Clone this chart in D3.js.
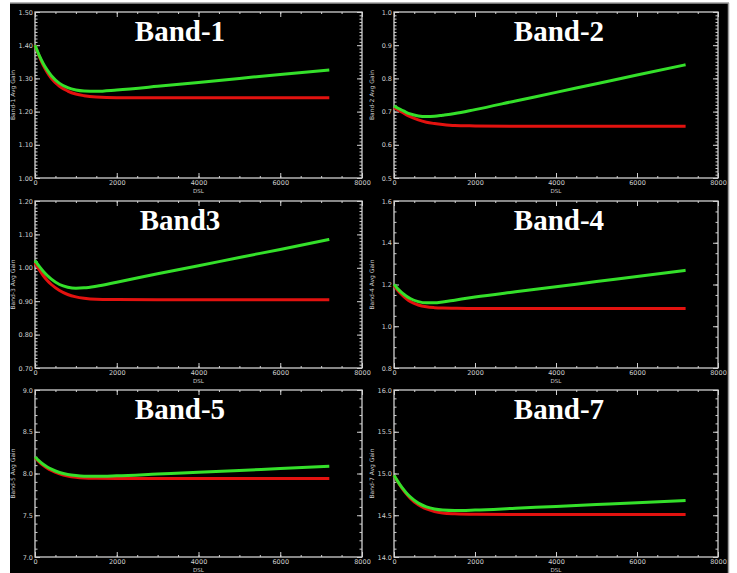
<!DOCTYPE html>
<html>
<head>
<meta charset="utf-8">
<script src="https://cdn.jsdelivr.net/npm/d3@7"></script>
<style>
  html, body { margin: 0; padding: 0; background: #ffffff; }
  svg { display: block; }
</style>
</head>
<body>
<svg id="chart" width="737" height="573"></svg>
<script>
// ---------------- DATA ----------------
const dsl = [0, 100, 200, 300, 400, 600, 800, 1000, 1200, 1500, 2000, 3000, 4000, 5000, 6000, 7200];

const bandTitles = ["Band-1", "Band-2", "Band3", "Band-4", "Band-5", "Band-7"];
const yAxisTitles = ["Band-1 Avg Gain", "Band-2 Avg Gain", "Band-3 Avg Gain", "Band-4 Avg Gain", "Band-5 Avg Gain", "Band-7 Avg Gain"];

const green1 = [1.400, 1.370, 1.345, 1.325, 1.308, 1.285, 1.272, 1.265, 1.262, 1.261, 1.265, 1.276, 1.288, 1.300, 1.312, 1.325];
const red1   = [1.400, 1.368, 1.340, 1.318, 1.300, 1.276, 1.262, 1.253, 1.248, 1.244, 1.242, 1.242, 1.242, 1.242, 1.242, 1.242];

const green2 = [0.717, 0.710, 0.704, 0.698, 0.693, 0.687, 0.685, 0.686, 0.689, 0.694, 0.706, 0.732, 0.758, 0.784, 0.810, 0.841];
const red2   = [0.712, 0.705, 0.698, 0.691, 0.685, 0.675, 0.668, 0.664, 0.661, 0.658, 0.657, 0.656, 0.656, 0.656, 0.656, 0.656];

const green3 = [1.022, 1.005, 0.990, 0.977, 0.966, 0.950, 0.942, 0.939, 0.940, 0.945, 0.957, 0.982, 1.006, 1.031, 1.055, 1.085];
const red3   = [1.015, 0.995, 0.977, 0.962, 0.950, 0.932, 0.920, 0.913, 0.909, 0.906, 0.905, 0.904, 0.904, 0.904, 0.904, 0.904];

const green4 = [1.200, 1.178, 1.160, 1.145, 1.133, 1.118, 1.112, 1.112, 1.116, 1.125, 1.140, 1.165, 1.189, 1.214, 1.238, 1.268];
const red4   = [1.195, 1.170, 1.150, 1.133, 1.119, 1.102, 1.093, 1.089, 1.087, 1.086, 1.085, 1.085, 1.085, 1.085, 1.085, 1.085];

const green5 = [8.198, 8.150, 8.110, 8.078, 8.052, 8.012, 7.988, 7.975, 7.968, 7.966, 7.972, 7.993, 8.014, 8.036, 8.060, 8.087];
const red5   = [8.190, 8.140, 8.098, 8.064, 8.036, 7.996, 7.970, 7.955, 7.947, 7.943, 7.941, 7.940, 7.940, 7.940, 7.940, 7.940];

const green7 = [14.980, 14.900, 14.830, 14.770, 14.720, 14.645, 14.600, 14.575, 14.562, 14.556, 14.562, 14.584, 14.606, 14.628, 14.650, 14.677];
const red7   = [14.975, 14.895, 14.822, 14.760, 14.705, 14.625, 14.575, 14.545, 14.528, 14.518, 14.512, 14.510, 14.510, 14.510, 14.510, 14.510];

const xTicks = [0, 2000, 4000, 6000, 8000];
const xMinorTicks = d3.range(0, 8001, 500);

const yTicks1 = [1.00, 1.10, 1.20, 1.30, 1.40, 1.50];
const yTicks2 = [0.5, 0.6, 0.7, 0.8, 0.9, 1.0];
const yTicks3 = [0.70, 0.80, 0.90, 1.00, 1.10, 1.20];
const yTicks4 = [0.8, 1.0, 1.2, 1.4, 1.6];
const yTicks5 = [7.0, 7.5, 8.0, 8.5, 9.0];
const yTicks7 = [14.0, 14.5, 15.0, 15.5, 16.0];

// ---------------- LAYOUT / STYLE ----------------
const panels = [
  { green: green1, red: red1, yt: yTicks1, minorStep: 0.01, fmt: ".2f", col: 0, row: 0 },
  { green: green2, red: red2, yt: yTicks2, minorStep: 0.01, fmt: ".1f", col: 1, row: 0 },
  { green: green3, red: red3, yt: yTicks3, minorStep: 0.01, fmt: ".2f", col: 0, row: 1 },
  { green: green4, red: red4, yt: yTicks4, minorStep: 0.05, fmt: ".1f", col: 1, row: 1 },
  { green: green5, red: red5, yt: yTicks5, minorStep: 0.1,  fmt: ".1f", col: 0, row: 2 },
  { green: green7, red: red7, yt: yTicks7, minorStep: 0.1,  fmt: ".1f", col: 1, row: 2 }
];
const colX = [[35, 362], [394, 718]];
const rowY = [[12, 178], [201, 368], [390, 557]];
const titleX = [180, 559];
const titleDY = 29;

const svg = d3.select("#chart");

// backdrop
svg.append("rect").attr("x", 10).attr("y", 3).attr("width", 718).attr("height", 570).attr("fill", "#000");
svg.append("line").attr("x1", 10).attr("x2", 729).attr("y1", 3).attr("y2", 3).attr("stroke", "#9a9a9a").attr("stroke-width", 1.5);
svg.append("line").attr("x1", 728.5).attr("x2", 728.5).attr("y1", 3).attr("y2", 573).attr("stroke", "#9a9a9a").attr("stroke-width", 1.5);

const frameColor = "#d0d0d0";
const labelColor = "#cfcfcf";

panels.forEach((p, i) => {
  const [x0, x1] = colX[p.col];
  const [y0, y1] = rowY[p.row];
  const yMin = p.yt[0], yMax = p.yt[p.yt.length - 1];

  const x = d3.scaleLinear().domain([0, 8000]).range([x0, x1]);
  const y = d3.scaleLinear().domain([yMin, yMax]).range([y1, y0]);

  const g = svg.append("g");

  // minor ticks
  const n = Math.round((yMax - yMin) / p.minorStep);
  const yMinor = d3.range(0, n + 1).map(k => +(yMin + k * p.minorStep).toFixed(4));

  const styleAxis = sel => {
    sel.select(".domain").remove();
    sel.selectAll("line").attr("stroke", frameColor).attr("stroke-width", 1);
    sel.selectAll("text").attr("fill", labelColor).attr("font-family", "DejaVu Sans, sans-serif").attr("font-size", 6.5);
  };

  g.append("g").attr("transform", `translate(${x0},0)`)
    .call(d3.axisLeft(y).tickValues(yMinor).tickSize(-2.5).tickFormat(""))
    .call(styleAxis);
  g.append("g").attr("transform", `translate(${x1},0)`)
    .call(d3.axisRight(y).tickValues(yMinor).tickSize(-2.5).tickFormat(""))
    .call(styleAxis);
  g.append("g").attr("transform", `translate(0,${y1})`)
    .call(d3.axisBottom(x).tickValues(xMinorTicks).tickSize(-2).tickFormat(""))
    .call(styleAxis);
  g.append("g").attr("transform", `translate(0,${y0})`)
    .call(d3.axisTop(x).tickValues(xMinorTicks).tickSize(-2).tickFormat(""))
    .call(styleAxis);

  // major ticks with labels
  g.append("g").attr("transform", `translate(${x0},0)`)
    .call(d3.axisLeft(y).tickValues(p.yt).tickSize(-5).tickPadding(2).tickFormat(d3.format(p.fmt)))
    .call(styleAxis);
  g.append("g").attr("transform", `translate(${x1},0)`)
    .call(d3.axisRight(y).tickValues(p.yt).tickSize(-5).tickFormat(""))
    .call(styleAxis);
  g.append("g").attr("transform", `translate(0,${y1})`)
    .call(d3.axisBottom(x).tickValues(xTicks).tickSize(-5).tickPadding(2).tickFormat(d3.format("d")))
    .call(styleAxis);
  g.append("g").attr("transform", `translate(0,${y0})`)
    .call(d3.axisTop(x).tickValues(xTicks).tickSize(-5).tickFormat(""))
    .call(styleAxis);

  // frame
  g.append("rect").attr("x", x0).attr("y", y0).attr("width", x1 - x0).attr("height", y1 - y0)
    .attr("fill", "none").attr("stroke", frameColor).attr("stroke-width", 1.3);

  // axis titles
  g.append("text").attr("x", (x0 + x1) / 2).attr("y", y1 + 14.5)
    .attr("text-anchor", "middle").attr("fill", labelColor)
    .attr("font-family", "DejaVu Sans, sans-serif").attr("font-size", 5.5).text("DSL");
  g.append("text")
    .attr("transform", `translate(${x0 - 20},${(y0 + y1) / 2}) rotate(-90)`)
    .attr("text-anchor", "middle").attr("fill", labelColor)
    .attr("font-family", "DejaVu Sans, sans-serif").attr("font-size", 6).text(yAxisTitles[i]);

  // curves
  const line = d3.line().x((d, k) => x(dsl[k])).y(d => y(d)).curve(d3.curveMonotoneX);
  g.append("path").datum(p.red).attr("d", line)
    .attr("fill", "none").attr("stroke", "#e3120f").attr("stroke-width", 3);
  g.append("path").datum(p.green).attr("d", line)
    .attr("fill", "none").attr("stroke", "#34e02a").attr("stroke-width", 3);

  // title
  g.append("text").attr("x", titleX[p.col]).attr("y", y0 + titleDY)
    .attr("text-anchor", "middle").attr("fill", "#ffffff")
    .attr("font-family", "Liberation Serif, Times New Roman, serif")
    .attr("font-weight", "bold").attr("font-size", 29).text(bandTitles[i]);
});
</script>
</body>
</html>
